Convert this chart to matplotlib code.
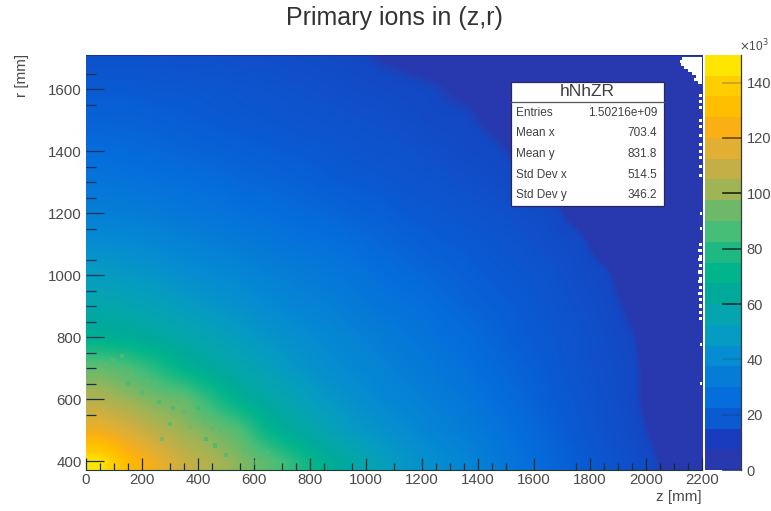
# Primary ions heat map with stats box
import matplotlib
matplotlib.use('Agg')
import matplotlib.pyplot as plt
import numpy as np
from matplotlib.cm import ScalarMappable
from matplotlib.colors import ListedColormap, BoundaryNorm, LinearSegmentedColormap, Normalize
from matplotlib.patches import Rectangle

plt.rcParams['font.family'] = ['Liberation Sans', 'DejaVu Sans']

W, H = 771, 511

# bin centres of the table below
z_centres = [50, 150, 250, 350, 450, 550, 650, 750, 850, 950, 1050, 1150, 1250, 1350,
             1450, 1550, 1650, 1750, 1850, 1950, 2050, 2150]
r_centres = [400, 500, 600, 700, 800, 900, 1000, 1100, 1200, 1300, 1400, 1500, 1600, 1700]

counts = [
    [146, 130, 120, 110, 104, 97, 90, 80, 68, 60, 52, 46, 42, 38, 33, 28, 24, 20, 16, 12, 7, 1],
    [120, 114, 106, 100, 95, 88, 72, 62, 55, 49, 45, 41, 37, 34, 30, 26, 22, 18, 14, 10, 5, 1],
    [105, 100, 95, 92, 80, 68, 60, 54, 48, 44, 40, 37, 34, 31, 27, 24, 20, 17, 13, 9, 3, 1],
    [92, 88, 80, 70, 63, 57, 52, 47, 43, 40, 37, 34, 31, 28, 25, 22, 19, 15, 12, 9, 3, 1],
    [68, 66, 62, 58, 54, 50, 46, 43, 40, 37, 34, 31, 28, 26, 23, 20, 18, 15, 11, 8, 2, 1],
    [58, 56, 53, 50, 47, 44, 41, 38, 36, 33, 30, 28, 26, 23, 21, 19, 16, 13, 10, 6, 1, 1],
    [50, 48, 46, 43, 41, 39, 36, 34, 32, 30, 27, 25, 23, 21, 19, 17, 15, 11, 9, 3, 1, 1],
    [42, 41, 39, 37, 35, 33, 31, 29, 28, 26, 24, 22, 20, 19, 17, 15, 12, 10, 4, 1, 1, 1],
    [35, 34, 33, 31, 30, 28, 27, 25, 24, 22, 21, 19, 18, 16, 14, 12, 10, 5, 2, 1, 1, 1],
    [30, 29, 28, 27, 26, 24, 23, 22, 20, 19, 18, 16, 15, 13, 11, 9, 6, 3, 2, 1, 1, 1],
    [26, 25, 24, 23, 22, 21, 20, 19, 18, 16, 15, 14, 12, 10, 9, 6, 4, 3, 2, 1, 1, 1],
    [22, 22, 21, 20, 19, 18, 17, 16, 15, 14, 13, 11, 9, 9, 6, 4, 3, 2, 2, 1, 1, 1],
    [19, 19, 18, 18, 17, 16, 15, 14, 13, 11, 10, 9, 8, 6, 4, 3, 3, 2, 1, 1, 1, 1],
    [14, 14, 14, 13, 13, 12, 12, 11, 10, 9, 7, 6, 5, 5, 4, 3, 3, 2, 2, 1, 1, 1],
]

# single noisy bins around the olive patch
speck_z = [96, 130, 70, 110, 160, 218, 250, 190, 270, 300, 330, 371, 350, 390, 420, 370, 450,
           480, 514, 530, 560, 590, 620, 650, 693, 720, 600, 260, 310, 400, 430, 460, 500,
           200, 150, 300, 270]
speck_r = [726, 740, 712, 690, 680, 661, 650, 640, 620, 610, 590, 587, 560, 540, 530, 510, 505,
           500, 490, 460, 440, 420, 410, 430, 394, 400, 395, 590, 570, 570, 470, 450, 420,
           620, 650, 520, 470]
speck_val = [92, 92, 92, 90, 92, 92, 90, 94, 92, 90, 90, 92, 90, 92, 90, 94, 90, 90, 90, 92, 90,
             90, 88, 88, 86, 84, 92, 84, 84, 82, 82, 82, 84, 86, 84, 86, 88]

# empty bins along the right edge: row and where the empty part starts
empty_r = [1700, 1690, 1680, 1670, 1660, 1650, 1640, 1630, 1620, 1580, 1560, 1540, 1500,
           1480, 1450, 1420, 1400, 1380, 1350, 1320, 1200, 1150, 1100, 1080, 1060, 1050,
           1030, 1010, 990, 980, 960, 940, 920, 900, 880, 860, 775, 650]
empty_z = [2130, 2120, 2125, 2135, 2150, 2165, 2180, 2170, 2185, 2190, 2188, 2190, 2188,
           2190, 2188, 2190, 2188, 2190, 2190, 2188, 2192, 2192, 2188, 2186, 2188, 2186,
           2188, 2186, 2188, 2186, 2188, 2186, 2188, 2190, 2188, 2190, 2192, 2192]

palette = ['#2838ae', '#193cbe', '#0a5ad2', '#056edc', '#057dd7', '#058cd2', '#059bc3',
           '#05a5af', '#00aa9b', '#00b48c', '#1eb982', '#46be78', '#6eb969', '#a0b455',
           '#c3af46', '#e1af32', '#faaf14', '#ffbe00', '#ffcd00', '#ffe600']
level_step = 7.5
n_levels = 20

stat_names = ['Entries', 'Mean x', 'Mean y', 'Std Dev x', 'Std Dev y']
stat_values = ['1.50216e+09', '703.4', '831.8', '514.5', '346.2']

z_major = list(range(0, 2201, 200))
r_major = list(range(400, 1601, 200))
# only these small ticks show in the picture
z_minor = [50, 100, 150, 300, 350, 450, 550, 700, 750, 850, 950, 1100, 1250, 1300, 1350,
           1450, 1500, 1750, 1850, 1900, 1950, 2050, 2100, 2150]
r_minor = [1650, 1550, 1350, 1300, 1250, 1150, 1050, 950, 900, 850, 750, 700, 650, 550]
z_faint = [400, 1800, 2200]
r_faint = [400, 800, 1400]
bar_ticks = [0, 20, 40, 60, 80, 100, 120, 140]
bar_tick_cols = ['#24308f', '#1050b0', '#0880b0', '#0a2c30', '#0a3c30', '#1c2410', '#6a4a08', '#c0a030']

text_col = '#4a4a4a'


def px_axes(fig, x0, y0, x1, y1):
    # axes from pixel box, y measured from the top
    return fig.add_axes([x0 / W, 1 - y1 / H, (x1 - x0) / W, (y1 - y0) / H])


fig = plt.figure(figsize=(W / 100, H / 100), dpi=100)
ax = px_axes(fig, 86, 55, 702, 470)

# stepped colours for the bar, smoothed ones for the blurred map
vmax = n_levels * level_step
step_cmap = ListedColormap(palette)
step_norm = BoundaryNorm(np.arange(n_levels + 1) * level_step, step_cmap.N)
nodes = [(0.0, palette[0]), (6.8 / vmax, palette[0]), (8.2 / vmax, '#1448c4')]
for i in range(2, n_levels):
    nodes.append(((i + 0.5) * level_step / vmax, palette[i]))
nodes.append((1.0, '#ffff00'))
map_cmap = LinearSegmentedColormap.from_list('map', nodes, N=512)
map_norm = Normalize(0, vmax)

im = ax.imshow(np.array(counts), origin='lower', aspect='auto', cmap=map_cmap, norm=map_norm,
               interpolation='bilinear',
               extent=[z_centres[0] - 50, z_centres[-1] + 50, r_centres[0] - 50, r_centres[-1] + 50])
ax.scatter(speck_z, speck_r, c=speck_val, cmap=map_cmap, norm=map_norm, marker='s', s=9,
           linewidths=0, alpha=0.6, zorder=2)
ax.barh(empty_r, [2200 - z for z in empty_z], left=empty_z, height=10, color='white', linewidth=0,
        zorder=3)

ax.set_xlim(0, 2200)
ax.set_ylim(371, 1710)

ax.set_xticks(z_major)
ax.set_yticks(r_major)
ax.set_xticks(z_minor, minor=True)
ax.set_yticks(r_minor, minor=True)
ax.tick_params(axis='x', which='major', direction='in', length=8.6, width=0.9, color='#10302a',
               labelsize=10.8, labelcolor=text_col, pad=2)
ax.tick_params(axis='x', which='minor', direction='in', length=4.8, width=0.9, color='#10302a')
ax.tick_params(axis='y', which='major', direction='in', length=13, width=0.9, color='#10305a',
               labelsize=10.8, labelcolor=text_col, pad=3)
ax.tick_params(axis='y', which='minor', direction='in', length=7.2, width=0.9, color='#10305a')
for t in ax.xaxis.get_major_ticks():
    if t.get_loc() in z_faint:
        t.tick1line.set_visible(False)
for t in ax.yaxis.get_major_ticks():
    if t.get_loc() in r_faint:
        t.tick1line.set_visible(False)

for s in ['left', 'right']:
    ax.spines[s].set_visible(False)
ax.spines['top'].set_color('#1c2f8c')
ax.spines['top'].set_linewidth(0.6)
ax.spines['bottom'].set_color('#203a30')
ax.spines['bottom'].set_linewidth(0.8)

# colour bar
cax = px_axes(fig, 705, 55, 741, 470)
cb = fig.colorbar(ScalarMappable(norm=step_norm, cmap=step_cmap), cax=cax, spacing='proportional',
                  ticks=bar_ticks, drawedges=False)
cb.outline.set_visible(False)
cax.set_ylim(0, vmax)
cax.yaxis.set_ticks_position('right')
cax.tick_params(axis='y', which='major', length=0, labelsize=10.5, labelcolor=text_col, pad=4)
cax.minorticks_off()
for v, col in zip(bar_ticks, bar_tick_cols):
    cax.plot([0.5, 1.0], [v, v], color=col, linewidth=1.2, transform=cax.get_yaxis_transform(),
             clip_on=False)
cax.spines['right'].set_visible(True)
cax.spines['right'].set_color('#3a3a38')
cax.spines['right'].set_linewidth(0.9)

# texts
fig.text(394 / W, 1 - 18 / H, 'Primary ions in (z,r)', ha='center', va='center', fontsize=18,
         color='#333333')
fig.text(702 / W, 1 - 497 / H, 'z [mm]', ha='right', va='center', fontsize=11, color=text_col)
fig.text(22 / W, 1 - 54 / H, 'r [mm]', ha='center', va='top', rotation=90, fontsize=11, color=text_col)
fig.text(739 / W, 1 - 46 / H, r'$\times$10$^3$', ha='left', va='center', fontsize=8.5, color=text_col)

# stats box in pixel coordinates
bx = fig.add_axes([0, 0, 1, 1], facecolor='none')
bx.set_xlim(0, W)
bx.set_ylim(H, 0)
bx.axis('off')
bx.add_patch(Rectangle((511, 82), 153, 124, facecolor='white', edgecolor='#28285a', linewidth=0.9))
bx.plot([511, 664], [102, 102], color='#555555', linewidth=0.9)
bx.text(587, 91, 'hNhZR', ha='center', va='center', fontsize=12.5, color='#404040')
for i in range(len(stat_names)):
    y = 113 + i * 20.5
    bx.text(516, y, stat_names[i], ha='left', va='center', fontsize=8.5, color='#404040')
    bx.text(657, y, stat_values[i], ha='right', va='center', fontsize=8.5, color='#404040')

fig.savefig('out.png', dpi=100)
